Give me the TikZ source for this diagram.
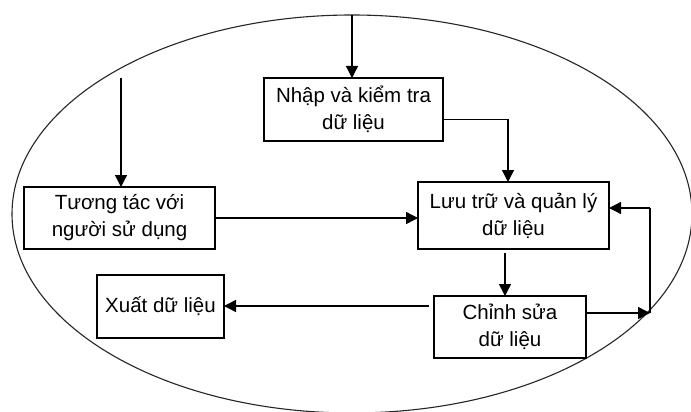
\documentclass[tikz,border=0pt]{standalone}
\usepackage{fontspec}
\setmainfont{Liberation Sans}
\usetikzlibrary{shapes.geometric,arrows.meta}

\tikzset{
  box/.style={draw, line width=1.4pt, inner sep=0pt, outer sep=0pt,
              align=center, font=\fontsize{20.5}{27}\selectfont},
  arr/.style={line width=1.4pt, -{Triangle[length=12pt,width=12pt]}},
  plain/.style={line width=1.4pt},
}

\begin{document}
\begin{tikzpicture}[x=1pt,y=-1pt]
  \useasboundingbox (0,0) rectangle (691,412);
  \clip (0,0) rectangle (691,412);
  \fill[white] (0,0) rectangle (691,412);

  % system boundary
  \node[ellipse, draw=black!85, line width=1.1pt, inner sep=0pt, outer sep=0pt,
        minimum width=680, minimum height=398] (oval) at (352,214) {};

  % processes
  \node[box, minimum width=179, minimum height=63] (nhap)  at (353.5,109.5) {Nhập và kiểm tra\\dữ liệu};
  \node[box, minimum width=191, minimum height=62] (tuong) at (119.5,218)   {Tương tác với\\người sử dụng};
  \node[box, minimum width=191, minimum height=67] (luu)   at (513.5,215.5) {Lưu trữ và quản lý\\dữ liệu};
  \node[box, minimum width=127, minimum height=63] (xuat)  at (160.5,306.5) {Xuất dữ liệu};
  \node[box, minimum width=152, minimum height=62] (chinh) at (510,327)     {Chỉnh sửa\\dữ liệu};

  % free ends of the feedback loop and the outside input
  \coordinate (inT)   at (121,78);
  \coordinate (loopB) at (650,313);
  \coordinate (loopT) at (650,208);

  % flows
  \draw[arr] (oval.north) -- (oval.north |- nhap.north);
  \draw[arr] (inT) -- (inT |- tuong.north);
  \draw[arr] ([yshift=-10pt]nhap.east) -| ([xshift=-5.5pt]luu.north);
  \draw[arr] (tuong.east) -- (tuong.east -| luu.west);
  \draw[arr] ([xshift=-8.5pt,yshift=-4pt]luu.south) -- ([xshift=-8.5pt]luu.south |- chinh.north);
  \draw[arr] ([xshift=-5pt,yshift=21pt]chinh.west) -- ([yshift=21pt]chinh.west -| xuat.east);
  \draw[arr] ([yshift=14pt]chinh.east) -- (loopB);
  \draw[plain] (loopB) -- (loopT);
  \draw[arr] (loopT) -- (loopT -| luu.east);
\end{tikzpicture}
\end{document}
